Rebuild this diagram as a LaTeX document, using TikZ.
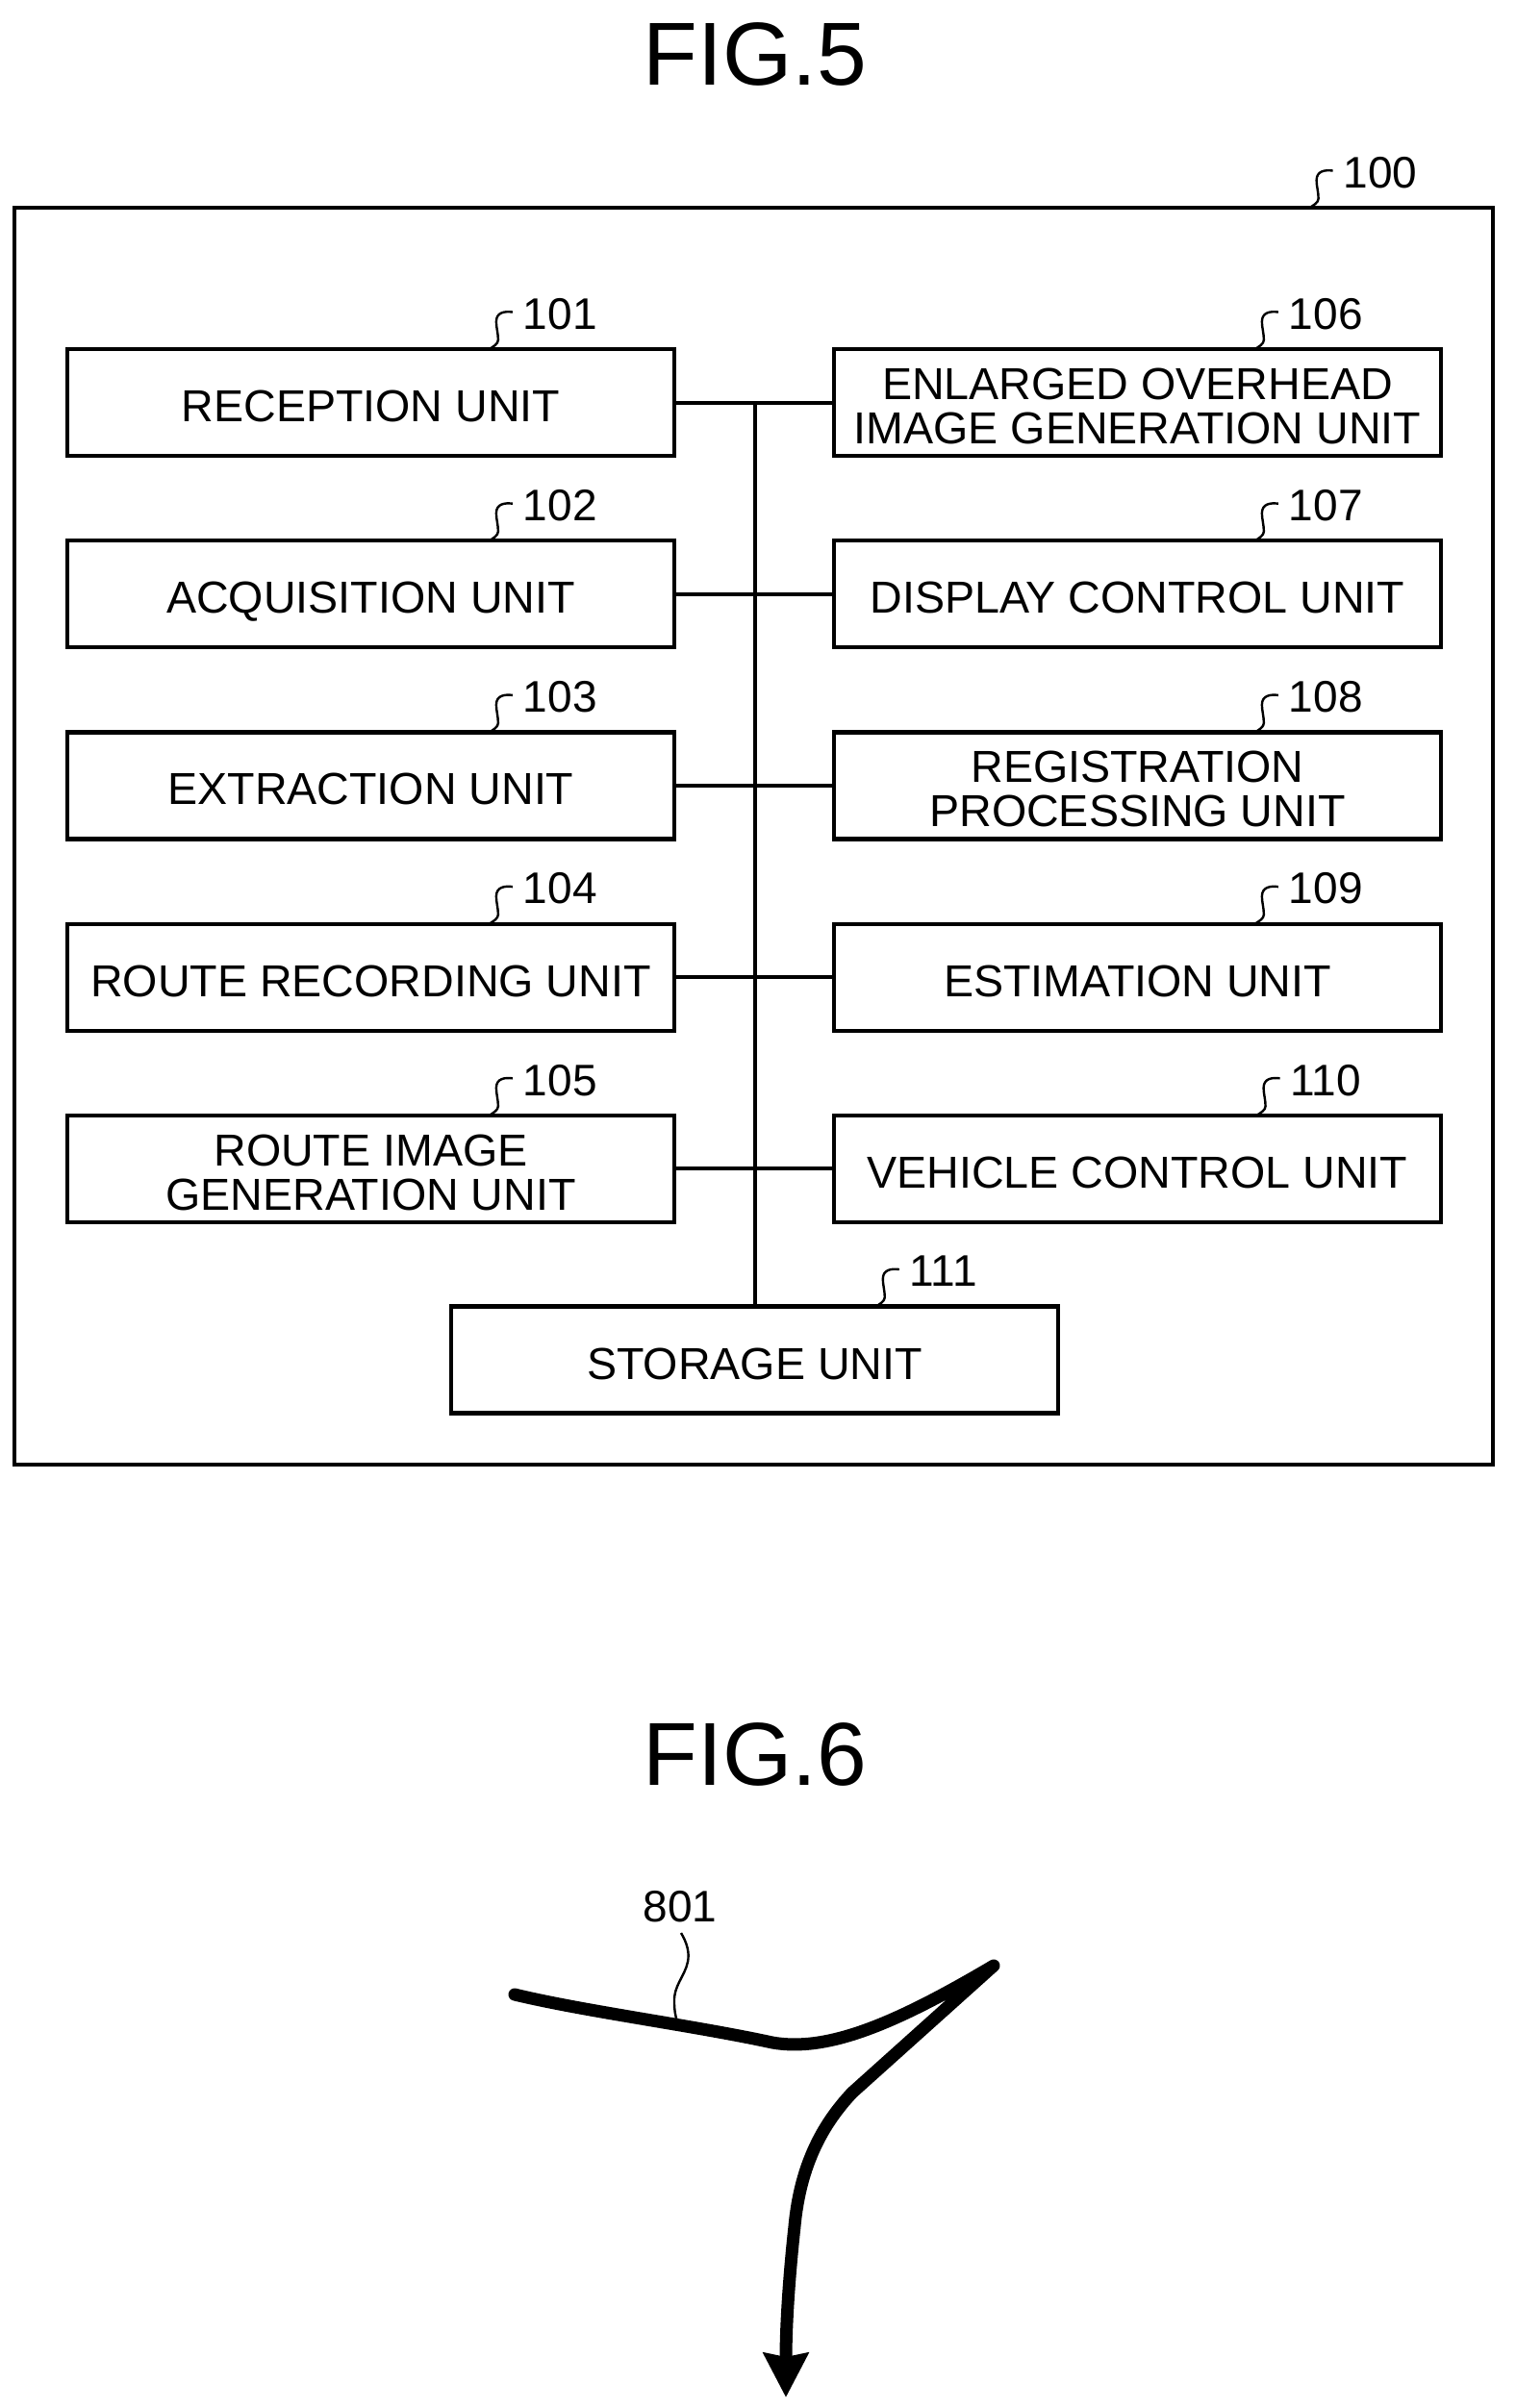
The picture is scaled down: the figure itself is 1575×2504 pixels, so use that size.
\documentclass[tikz,border=0pt]{standalone}
\usepackage{fontspec}
\setmainfont{Liberation Sans}
\usetikzlibrary{arrows.meta}
\tikzset{
  unitbox/.style={draw=black,line width=4.2pt,minimum width=630.5pt,minimum height=111pt,
    inner sep=0pt,outer sep=0pt,align=center,font=\fontsize{46.6}{46}\selectfont},
  oneline/.style={unitbox,text height=40pt,text depth=0pt},
  outerbox/.style={draw=black,line width=3.8pt,minimum width=1537pt,minimum height=1307pt,inner sep=0pt,outer sep=0pt},
  num/.style={inner sep=0pt,outer sep=0pt,font=\fontsize{46}{46}\selectfont},
  figtitle/.style={inner sep=0pt,font=\fontsize{93}{93}\selectfont},
  leader/.style={draw=black,line width=2.4pt},
  busline/.style={draw=black,line width=4pt},
  route/.style={draw=black,line width=13pt,line cap=round,line join=round}
}
\newcommand{\uppad}{\rule{0pt}{40pt}}
\newcommand{\leadlabel}[3]{%
  \node[num] (#2) at ([shift={(#3,-36.5)}]#1.north west) {#2};
  \draw[leader,shift={(#2.west)}] (-11,-2) .. controls (-19,-3) and (-28,-2) .. (-28,8)
     .. controls (-28,14) and (-26,20) .. (-26,27)
     .. controls (-26,31) and (-31,34) .. (-36,37);
}
\begin{document}
\begin{tikzpicture}[x=1pt,y=-1pt]
\useasboundingbox (0,0) rectangle (1575,2504);
\fill[white] (0,0) rectangle (1575,2504);
\node[figtitle] (fig5) at (785,56) {FIG.5};
\node[figtitle] (fig6) at (785,1824) {FIG.6};
\node[outerbox] (b100) at (783.5,869.5) {};
\node[oneline] (b101) at (385.5,418.5) {RECEPTION UNIT};
\node[oneline] (b102) at (385.5,617.7) {ACQUISITION UNIT};
\node[oneline] (b103) at (385.5,816.9) {EXTRACTION UNIT};
\node[oneline] (b104) at (385.5,1016.1) {ROUTE RECORDING UNIT};
\node[unitbox] (b105) at (385.5,1215.3) {\uppad ROUTE IMAGE\\GENERATION UNIT};
\node[unitbox] (b106) at (1182.5,418.5) {\uppad ENLARGED OVERHEAD\\IMAGE GENERATION UNIT};
\node[oneline] (b107) at (1182.5,617.7) {DISPLAY CONTROL UNIT};
\node[unitbox] (b108) at (1182.5,816.9) {\uppad REGISTRATION\\PROCESSING UNIT};
\node[oneline] (b109) at (1182.5,1016.1) {ESTIMATION UNIT};
\node[oneline] (b110) at (1182.5,1215.3) {VEHICLE CONTROL UNIT};
\node[oneline] (b111) at (784.5,1414) {STORAGE UNIT};
\coordinate (bustop) at (784.5,418.5);
\draw[busline] (bustop) -- (b111.north);
\draw[busline] (b101.east) -- (b106.west);
\draw[busline] (b102.east) -- (b107.west);
\draw[busline] (b103.east) -- (b108.west);
\draw[busline] (b104.east) -- (b109.west);
\draw[busline] (b105.east) -- (b110.west);
\leadlabel{b100}{100}{1420}
\leadlabel{b101}{101}{512}
\leadlabel{b102}{102}{512}
\leadlabel{b103}{103}{512}
\leadlabel{b104}{104}{512}
\leadlabel{b105}{105}{512}
\leadlabel{b106}{106}{511}
\leadlabel{b107}{107}{511}
\leadlabel{b108}{108}{511}
\leadlabel{b109}{109}{511}
\leadlabel{b110}{110}{511}
\leadlabel{b111}{111}{511.5}
\node[num] (n801) at (707,1983) {801};
\coordinate (r0) at (535,2074);
\coordinate (r1) at (803,2124);
\coordinate (r2) at (1033,2044);
\coordinate (r3) at (817,2493);
\draw[route,-{Stealth[length=46pt,width=46pt,inset=4pt]}]
  (r0) .. controls (610,2092) and (720,2106) .. (r1)
  .. controls (860,2134) and (930,2105) .. (r2)
  -- (886,2176)
  .. controls (856,2208) and (832,2250) .. (826,2315)
  .. controls (820,2370) and (817,2420) .. (r3);
\coordinate (lead801a) at (708,2010);
\coordinate (lead801b) at (704,2102);
\draw[leader] (lead801a) .. controls (714,2020) and (717,2030) .. (715,2040)
   .. controls (712,2055) and (700,2065) .. (701,2082)
   .. controls (701,2090) and (702,2096) .. (lead801b);
\end{tikzpicture}
\end{document}
